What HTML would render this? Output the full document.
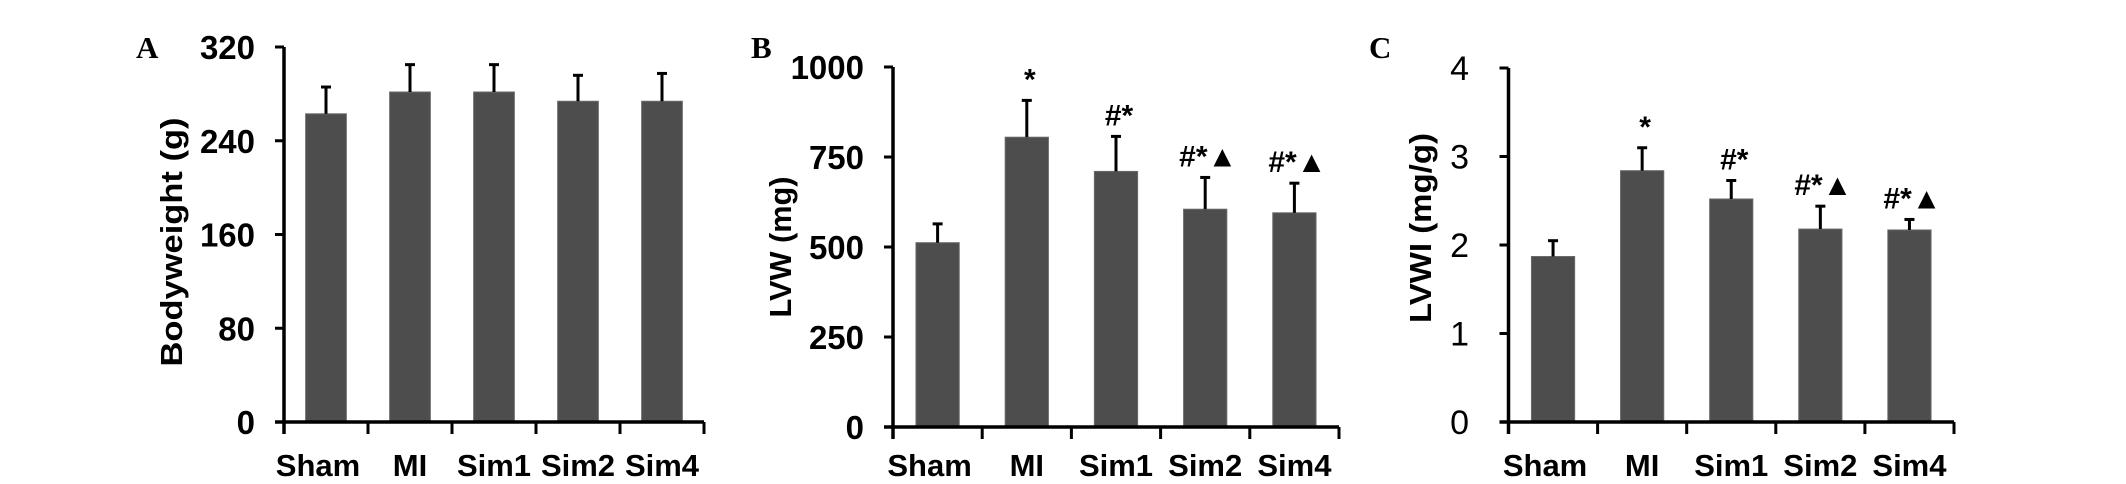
<!DOCTYPE html>
<html><head><meta charset="utf-8"><style>
html,body{margin:0;padding:0;background:#fff;width:2126px;height:484px;overflow:hidden}
svg{display:block}
text{font-family:"Liberation Sans",sans-serif;fill:#000}
text.serif{font-family:"Liberation Serif",serif}
</style></head><body>
<svg id="chart" width="2126" height="484" viewBox="0 0 2126 484"></svg>
<script>
const categories = ["Sham","MI","Sim1","Sim2","Sim4"];
const bodyWeight = [263, 281.6, 281.6, 273.7, 273.7];
const bodyWeightErr = [23.7, 24.2, 24.2, 23, 24.6];
const lvw = [512, 805, 710, 605, 595];
const lvwErr = [55, 105, 100, 91, 85];
const lvwi = [1.87, 2.84, 2.52, 2.18, 2.17];
const lvwiErr = [0.19, 0.27, 0.22, 0.27, 0.13];
const ticksA = [0, 80, 160, 240, 320];
const ticksB = [0, 250, 500, 750, 1000];
const ticksC = [0, 1, 2, 3, 4];
const annotB = ["", "*", "#*", "#*▲", "#*▲"];
const annotC = ["", "*", "#*", "#*▲", "#*▲"];

const NS = "http://www.w3.org/2000/svg";
const svg = document.getElementById("chart");
function mk(tag, attrs, parent) {
  const e = document.createElementNS(NS, tag);
  for (const k in attrs) e.setAttribute(k, attrs[k]);
  (parent || svg).appendChild(e);
  return e;
}

function panel(cfg) {
  const g = mk("g", {});
  
  
  const x0 = cfg.x0, x1 = cfg.x1, yTop = cfg.yTop, yBot = cfg.yBot;
  const maxV = cfg.ticks[cfg.ticks.length - 1];
  const yS = v => yBot - (v / maxV) * (yBot - yTop);
  const catW = (x1 - x0) / cfg.values.length;
  const barW = catW * 0.485;
  const xC = i => x0 + catW * (i + 0.5);

  cfg.values.forEach((v, i) => {
    const r = mk("rect", {x: xC(i) - barW / 2, y: yS(v), width: barW, height: yBot - yS(v), fill: "#4d4d4d", stroke: "#6a6a6a", "stroke-width": 1}, g);
    
    
    const et = yS(v + cfg.err[i]);
    const el = mk("line", {x1: xC(i), x2: xC(i), y1: yS(v), y2: et, stroke: "#000", "stroke-width": 3}, g);
    
    
    const cap = mk("line", {x1: xC(i) - 5, x2: xC(i) + 5, y1: et + 1, y2: et + 1, stroke: "#000", "stroke-width": 3}, g);
    
    
    if (cfg.annot && cfg.annot[i]) {
      const t = mk("text", {x: xC(i) + 3, y: et - 10, "text-anchor": "middle", "font-size": 30, "font-weight": "bold"}, g);
      t.textContent = cfg.annot[i];
      
      
    }
    const lab = mk("text", {x: xC(i) - (i === 0 ? 8 : 0), y: 476, "text-anchor": "middle", "font-size": 31, "font-weight": "bold"}, g);
    lab.textContent = categories[i];
    
    
    const tk = mk("line", {x1: x0 + catW * (i + 1), x2: x0 + catW * (i + 1), y1: yBot, y2: yBot + 12, stroke: "#000", "stroke-width": 3}, g);
    
    
  });
  const ya = mk("line", {x1: x0, x2: x0, y1: yTop, y2: yBot + 12, stroke: "#000", "stroke-width": 3.5}, g);
  
  
  const xa = mk("line", {x1: x0 - 9, x2: x1, y1: yBot, y2: yBot, stroke: "#000", "stroke-width": 3.5}, g);
  
  
  cfg.ticks.forEach(t => {
    const l = mk("line", {x1: x0 - 9, x2: x0, y1: yS(t), y2: yS(t), stroke: "#000", "stroke-width": 3}, g);
    
    
    const tx = mk("text", {x: cfg.tickRight, y: yS(t) + 12, "text-anchor": "end", "font-size": cfg.tickBold ? 33 : 34, "font-weight": cfg.tickBold ? "bold" : "normal"}, g);
    tx.textContent = t;
    
    
  });
  const yt = mk("text", {x: 0, y: 0, "text-anchor": "middle", "font-size": 31, "font-weight": "bold", textLength: cfg.titleLen, lengthAdjust: "spacingAndGlyphs", transform: `translate(${cfg.titleX},${cfg.titleY}) rotate(-90)`}, g);
  yt.textContent = cfg.title;
  
  
  const pl = mk("text", {x: cfg.letterX, y: 58, "class": "serif", "font-size": 31, "font-weight": "bold"}, g);
  pl.textContent = cfg.letter;
  
  
}

panel({id: "a", letter: "A", letterX: 136, x0: 284, x1: 704, yTop: 47, yBot: 422, ticks: ticksA, tickRight: 255, tickBold: true,
  values: bodyWeight, err: bodyWeightErr, title: "Bodyweight (g)", titleX: 182, titleY: 242, titleLen: 249});
panel({id: "b", letter: "B", letterX: 751, x0: 893, x1: 1339, yTop: 67, yBot: 427, ticks: ticksB, tickRight: 864, tickBold: true,
  values: lvw, err: lvwErr, annot: annotB, title: "LVW (mg)", titleX: 791, titleY: 247, titleLen: 141});
panel({id: "c", letter: "C", letterX: 1369, x0: 1508.5, x1: 1954, yTop: 68, yBot: 422, ticks: ticksC, tickRight: 1469, tickBold: false,
  values: lvwi, err: lvwiErr, annot: annotC, title: "LVWI (mg/g)", titleX: 1431, titleY: 228, titleLen: 190});
</script>
</body></html>
